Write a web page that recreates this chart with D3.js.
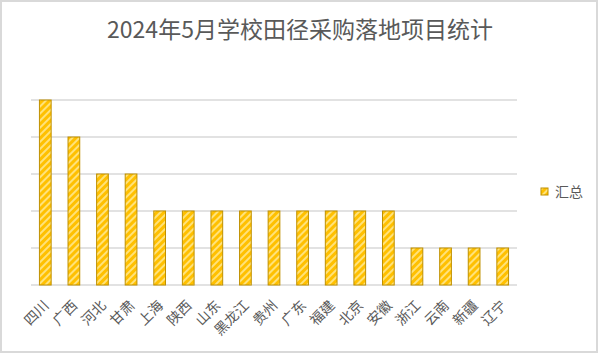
<!DOCTYPE html>
<html>
<head>
<meta charset="utf-8">
<script src="https://cdn.jsdelivr.net/npm/d3@7"></script>
<style>
  body { margin: 0; background: #fff; }
  svg { display: block; font-family: "Noto Sans CJK SC", "Noto Sans", sans-serif; }
</style>
</head>
<body>
<div id="chart"></div>
<script>
// Data
const provinces = ["四川", "广西", "河北", "甘肃", "上海", "陕西", "山东", "黑龙江", "贵州",
  "广东", "福建", "北京", "安徽", "浙江", "云南", "新疆", "辽宁"];
const counts = [5, 4, 3, 3, 2, 2, 2, 2, 2, 2, 2, 2, 2, 1, 1, 1, 1];
const yTicks = [0, 1, 2, 3, 4, 5];
const seriesName = "汇总";
const title = "2024年5月学校田径采购落地项目统计";

const W = 600, H = 355;
const margin = { top: 100, right: 83, bottom: 70, left: 31 };
const width = W - margin.left - margin.right;
const height = H - margin.top - margin.bottom;

const data = provinces.map((p, i) => ({ name: p, value: counts[i] }));

const x = d3.scaleBand().domain(provinces).range([0, width]).paddingInner(0.59).paddingOuter(0.295);
const y = d3.scaleLinear().domain([0, 5]).range([height, 0]);

const svg = d3.select("#chart").append("svg")
  .attr("width", W).attr("height", H);

// hatch pattern
const defs = svg.append("defs");
const pat = defs.append("pattern")
  .attr("id", "hatch")
  .attr("patternUnits", "userSpaceOnUse")
  .attr("width", 5).attr("height", 5)
  .attr("patternTransform", "rotate(45)");
pat.append("rect").attr("width", 5).attr("height", 5).attr("fill", "#FFC000");
pat.append("rect").attr("width", 2).attr("height", 5).attr("fill", "#FFE27A");

// outer frame
svg.append("rect")
  .attr("x", 1).attr("y", 1).attr("width", W - 4).attr("height", H - 4)
  .attr("fill", "#fff").attr("stroke", "#d9d9d9").attr("stroke-width", 2);

// Title
svg.append("text")
  .attr("x", 300).attr("y", 38)
  .attr("text-anchor", "middle")
  .style("font-size", "23px")
  .attr("fill", "#595959")
  .text(title);

const g = svg.append("g").attr("transform", `translate(${margin.left},${margin.top})`);

// gridlines
g.append("g")
  .selectAll("line")
  .data(yTicks)
  .join("line")
  .attr("x1", 0).attr("x2", width)
  .attr("y1", d => y(d)).attr("y2", d => y(d))
  .attr("stroke", "#d9d9d9").attr("stroke-width", 1.3);

// bars
g.selectAll(".bar")
  .data(data)
  .join("rect")
  .attr("class", "bar")
  .attr("x", d => x(d.name))
  .attr("y", d => y(d.value))
  .attr("width", x.bandwidth())
  .attr("height", d => height - y(d.value))
  .attr("fill", "url(#hatch)")
  .attr("stroke", "#BF9000")
  .attr("stroke-width", 1);

// x labels
g.selectAll(".xl")
  .data(provinces)
  .join("text")
  .attr("class", "xl")
  .attr("transform", d => `translate(${x(d) + x.bandwidth() / 2 + 1},${height + 18}) rotate(-45)`)
  .attr("text-anchor", "end")
  .attr("dy", "0.35em")
  .style("font-size", "14px")
  .attr("fill", "#595959")
  .text(d => d);

// Legend
const legend = svg.append("g").attr("transform", "translate(541,188)");
legend.append("rect")
  .attr("width", 7).attr("height", 7)
  .attr("fill", "url(#hatch)").attr("stroke", "#BF9000");
legend.append("text")
  .attr("x", 14).attr("y", 4)
  .attr("dy", "0.35em")
  .style("font-size", "14px")
  .attr("fill", "#595959")
  .text(seriesName);
</script>
</body>
</html>
